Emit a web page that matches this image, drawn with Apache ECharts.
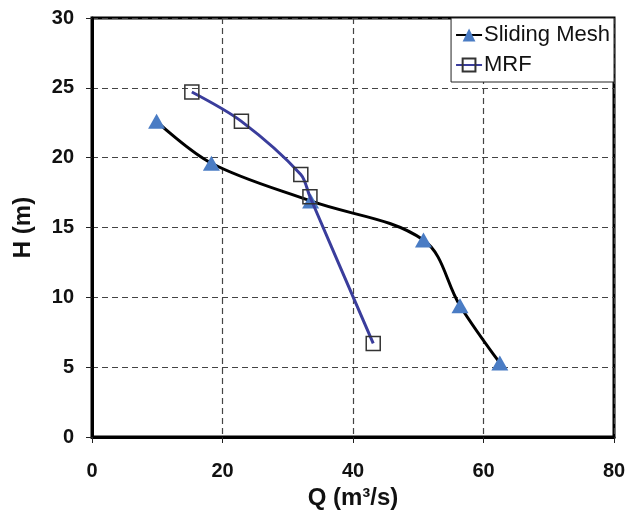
<!DOCTYPE html>
<html>
<head>
<meta charset="utf-8">
<script src="https://cdn.jsdelivr.net/npm/echarts@6/dist/echarts.min.js"></script>
<style>
  html, body { margin: 0; padding: 0; background: #fff; }
  #chart { width: 627px; height: 514px; }
</style>
</head>
<body>
<div id="chart"></div>
<script>
// Sliding Mesh (triangles, black curve)
const slidingQ = [9.9, 18.3, 33.5, 50.8, 56.4, 62.5];
const slidingH = [22.6, 19.6, 16.9, 14.1, 9.4, 5.3];
// MRF (hollow squares, blue curve)
const mrfQ = [15.3, 22.9, 32.0, 33.4, 43.1];
const mrfH = [24.7, 22.6, 18.8, 17.2, 6.7];

const xRange = [0, 80, 20];
const yRange = [0, 30, 5];

const font = 'Liberation Sans, Arial, sans-serif';

const chart = echarts.init(document.getElementById('chart'));

function pairs(xs, ys) {
    return xs.map((x, i) => [x, ys[i]]);
}

const gridLine = {
    show: true,
    lineStyle: { color: '#444', width: 1.2, type: [6, 4] }
};

const option = {
    backgroundColor: '#fff',
    animation: false,
    grid: {
        left: 92, right: 13, top: 18, bottom: 77,
        outerBoundsMode: 'none',
        containLabel: false,
        show: true, borderColor: '#000', borderWidth: 3
    },
    legend: {
        orient: 'vertical',
        right: 13,
        top: 18,
        padding: [6, 4, 6, 4],
        itemGap: 8,
        itemWidth: 26,
        itemHeight: 16,
        backgroundColor: '#fff',
        borderColor: '#222',
        borderWidth: 1,
        textStyle: { fontFamily: font, fontSize: 22, color: '#111', padding: [0, 0, 0, -3] },
        data: ['Sliding Mesh', 'MRF']
    },
    xAxis: {
        type: 'value',
        min: xRange[0], max: xRange[1], interval: xRange[2],
        name: 'Q (m³/s)',
        nameLocation: 'middle',
        nameGap: 48,
        nameTextStyle: { fontFamily: font, fontSize: 24, fontWeight: 'bold', color: '#111' },
        axisLine: { show: true, lineStyle: { color: '#000', width: 3 } },
        axisTick: { show: true, inside: false, length: 6, lineStyle: { color: '#222', width: 1 } },
        axisLabel: { margin: 24, fontFamily: font, fontSize: 20, fontWeight: 'bold', color: '#111' },
        splitLine: gridLine
    },
    yAxis: {
        type: 'value',
        min: yRange[0], max: yRange[1], interval: yRange[2],
        name: 'H (m)',
        nameLocation: 'middle',
        nameGap: 57,
        nameRotate: 90,
        nameTextStyle: { fontFamily: font, fontSize: 24, fontWeight: 'bold', color: '#111' },
        axisLine: { show: true, lineStyle: { color: '#000', width: 3 } },
        axisTick: { show: true, inside: false, length: 6, lineStyle: { color: '#222', width: 1 } },
        axisLabel: { margin: 18, fontFamily: font, fontSize: 20, fontWeight: 'bold', color: '#111' },
        splitLine: gridLine
    },
    series: [
        {
            name: 'Sliding Mesh',
            type: 'line',
            data: pairs(slidingQ, slidingH),
            smooth: 0.35,
            symbol: 'triangle',
            symbolSize: [17, 15],
            showAllSymbol: true,
            lineStyle: { color: '#000', width: 3 },
            itemStyle: { color: '#4a7cc4', borderWidth: 0 },
            z: 3
        },
        {
            name: 'MRF',
            type: 'line',
            data: pairs(mrfQ, mrfH),
            smooth: 0.3,
            symbol: 'rect',
            symbolSize: 14,
            showAllSymbol: true,
            lineStyle: { color: '#3a3d9c', width: 3 },
            itemStyle: { color: 'rgba(255,255,255,0)', borderColor: '#333', borderWidth: 1.5 },
            z: 4
        }
    ]
};

chart.setOption(option);
</script>
</body>
</html>
